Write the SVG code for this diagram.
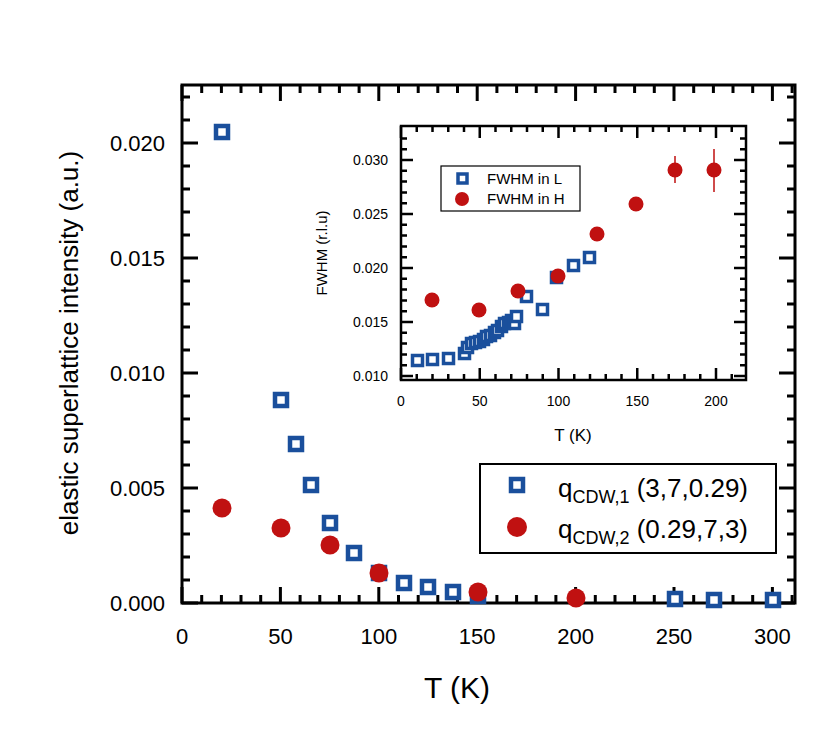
<svg xmlns="http://www.w3.org/2000/svg" width="830" height="738" viewBox="0 0 830 738">
<style>
text{font-family:"Liberation Sans",Arial,sans-serif;fill:#000}
.ax{fill:none;stroke:#000;stroke-width:3}
.tk{stroke:#000;stroke-width:3}
.itk{stroke:#000;stroke-width:2.5}
.sq{fill:#fff;stroke:#1a4f9c;stroke-width:4.5}
.isq{fill:#fff;stroke:#1a4f9c;stroke-width:3.5}
.ci{fill:#c01111}
.eb{stroke:#c01111;stroke-width:1.5}
.big{font-size:22px}
.sm{font-size:14px}
</style>
<rect width="830" height="738" fill="#fff"/>
<g id="main-axes">
<rect class="ax" x="182" y="85" width="613" height="518"/>
<g class="tk" id="main-ticks">
<path d="M182,603v-16M280.4,603v-16M378.8,603v-16M477.2,603v-16M575.6,603v-16M674,603v-16M772.4,603v-16M182,85v16M280.4,85v16M378.8,85v16M477.2,85v16M575.6,85v16M674,85v16M772.4,85v16"/>
<path d="M201.7,603v-8M221.4,603v-8M241,603v-8M260.7,603v-8M300.1,603v-8M319.8,603v-8M339.4,603v-8M359.1,603v-8M398.5,603v-8M418.2,603v-8M437.8,603v-8M457.5,603v-8M496.9,603v-8M516.6,603v-8M536.2,603v-8M555.9,603v-8M595.3,603v-8M615,603v-8M634.6,603v-8M654.3,603v-8M693.7,603v-8M713.4,603v-8M733,603v-8M752.7,603v-8M792.1,603v-8M201.7,85v8M221.4,85v8M241,85v8M260.7,85v8M300.1,85v8M319.8,85v8M339.4,85v8M359.1,85v8M398.5,85v8M418.2,85v8M437.8,85v8M457.5,85v8M496.9,85v8M516.6,85v8M536.2,85v8M555.9,85v8M595.3,85v8M615,85v8M634.6,85v8M654.3,85v8M693.7,85v8M713.4,85v8M733,85v8M752.7,85v8M792.1,85v8"/>
<path d="M182,603h16M182,488h16M182,373h16M182,258h16M182,143h16M795,603h-16M795,488h-16M795,373h-16M795,258h-16M795,143h-16"/>
<path d="M182,580h8M182,557h8M182,534h8M182,511h8M182,465h8M182,442h8M182,419h8M182,396h8M182,350h8M182,327h8M182,304h8M182,281h8M182,235h8M182,212h8M182,189h8M182,166h8M182,120h8M182,97h8M795,580h-8M795,557h-8M795,534h-8M795,511h-8M795,465h-8M795,442h-8M795,419h-8M795,396h-8M795,350h-8M795,327h-8M795,304h-8M795,281h-8M795,235h-8M795,212h-8M795,189h-8M795,166h-8M795,120h-8M795,97h-8"/>
</g>
<g class="big" text-anchor="middle">
<text x="182" y="644">0</text><text x="280.4" y="644">50</text><text x="378.8" y="644">100</text><text x="477.2" y="644">150</text><text x="575.6" y="644">200</text><text x="674" y="644">250</text><text x="772.4" y="644">300</text>
</g>
<g class="big" text-anchor="end">
<text x="165" y="611">0.000</text><text x="165" y="496">0.005</text><text x="165" y="381">0.010</text><text x="165" y="266">0.015</text><text x="165" y="151">0.020</text>
</g>
<text x="457" y="698" text-anchor="middle" font-size="30">T (K)</text>
<text transform="translate(78,343) rotate(-90)" text-anchor="middle" font-size="26">elastic superlattice intensity (a.u.)</text>
</g>
<g id="main-data">
<g class="sq">
<rect x="216" y="126" width="12" height="12"/><rect x="275" y="394" width="12" height="12"/><rect x="290" y="438" width="12" height="12"/><rect x="305" y="479" width="12" height="12"/><rect x="324" y="517" width="12" height="12"/><rect x="348" y="547" width="12" height="12"/><rect x="373" y="567" width="12" height="12"/><rect x="398" y="577" width="12" height="12"/><rect x="422" y="581" width="12" height="12"/><rect x="447" y="586" width="12" height="12"/><rect x="472" y="590" width="12" height="12"/><rect x="669" y="593" width="12" height="12"/><rect x="708" y="594" width="12" height="12"/><rect x="767" y="594" width="12" height="12"/>
</g>
<g class="ci">
<circle cx="222" cy="508" r="9.5"/><circle cx="281" cy="528" r="9.5"/><circle cx="330" cy="545" r="9.5"/><circle cx="379" cy="573" r="9.5"/><circle cx="478" cy="592" r="9.5"/><circle cx="576" cy="598" r="9.5"/>
</g>
</g>
<g id="main-legend">
<rect x="480" y="464" width="296" height="89" fill="#fff" stroke="#000" stroke-width="2"/>
<rect class="sq" x="511" y="479" width="12" height="12"/>
<circle class="ci" cx="517" cy="527" r="10"/>
<text x="558" y="497" font-size="26">q<tspan font-size="18" dy="6">CDW,1</tspan><tspan dy="-6"> (3,7,0.29)</tspan></text>
<text x="558" y="538" font-size="26">q<tspan font-size="18" dy="6">CDW,2</tspan><tspan dy="-6"> (0.29,7,3)</tspan></text>
</g>
<g id="inset">
<rect x="401" y="126" width="345" height="254" fill="#fff" stroke="#000" stroke-width="2.5"/>
<g class="itk">
<path d="M401,380v-12M479.75,380v-12M558.5,380v-12M637.25,380v-12M716,380v-12M401,126v12M479.75,126v12M558.5,126v12M637.25,126v12M716,126v12"/>
<path d="M416.75,380v-6M432.5,380v-6M448.25,380v-6M464,380v-6M495.5,380v-6M511.25,380v-6M527,380v-6M542.75,380v-6M574.25,380v-6M590,380v-6M605.75,380v-6M621.5,380v-6M653,380v-6M668.75,380v-6M684.5,380v-6M700.25,380v-6M731.75,380v-6M416.75,126v6M432.5,126v6M448.25,126v6M464,126v6M495.5,126v6M511.25,126v6M527,126v6M542.75,126v6M574.25,126v6M590,126v6M605.75,126v6M621.5,126v6M653,126v6M668.75,126v6M684.5,126v6M700.25,126v6M731.75,126v6"/>
<path d="M401,376h12M401,322h12M401,268h12M401,214h12M401,160h12M746,376h-12M746,322h-12M746,268h-12M746,214h-12M746,160h-12"/>
<path d="M401,365.2h6M401,354.4h6M401,343.6h6M401,332.8h6M401,311.2h6M401,300.4h6M401,289.6h6M401,278.8h6M401,257.2h6M401,246.4h6M401,235.6h6M401,224.8h6M401,203.2h6M401,192.4h6M401,181.6h6M401,170.8h6M401,149.2h6M401,138.4h6M746,365.2h-6M746,354.4h-6M746,343.6h-6M746,332.8h-6M746,311.2h-6M746,300.4h-6M746,289.6h-6M746,278.8h-6M746,257.2h-6M746,246.4h-6M746,235.6h-6M746,224.8h-6M746,203.2h-6M746,192.4h-6M746,181.6h-6M746,170.8h-6M746,149.2h-6M746,138.4h-6"/>
</g>
<g class="sm" text-anchor="middle">
<text x="401" y="406">0</text><text x="479.75" y="406">50</text><text x="558.5" y="406">100</text><text x="637.25" y="406">150</text><text x="716" y="406">200</text>
</g>
<g class="sm" text-anchor="end">
<text x="388" y="381">0.010</text><text x="388" y="327">0.015</text><text x="388" y="273">0.020</text><text x="388" y="219">0.025</text><text x="388" y="165">0.030</text>
</g>
<text x="573" y="441" text-anchor="middle" font-size="17">T (K)</text>
<text transform="translate(327,253) rotate(-90)" text-anchor="middle" font-size="15">FWHM (r.l.u)</text>
<g class="isq">
<rect x="412.5" y="355.5" width="10" height="10"/><rect x="427.5" y="354.5" width="10" height="10"/><rect x="443.5" y="353.5" width="10" height="10"/><rect x="459.5" y="348.5" width="10" height="10"/><rect x="462.5" y="342.5" width="10" height="10"/><rect x="466.5" y="338.5" width="10" height="10"/><rect x="470.5" y="337.5" width="10" height="10"/><rect x="474.5" y="336.5" width="10" height="10"/><rect x="478.5" y="334.5" width="10" height="10"/><rect x="481.5" y="331.5" width="10" height="10"/><rect x="485.5" y="330.5" width="10" height="10"/><rect x="489.5" y="327.5" width="10" height="10"/><rect x="492.5" y="325.5" width="10" height="10"/><rect x="496.5" y="321.5" width="10" height="10"/><rect x="499.5" y="318.5" width="10" height="10"/><rect x="503.5" y="317.5" width="10" height="10"/><rect x="506.5" y="315.5" width="10" height="10"/><rect x="509.5" y="318.5" width="10" height="10"/><rect x="511.5" y="311.5" width="10" height="10"/><rect x="521.5" y="291.5" width="10" height="10"/><rect x="537.5" y="304.5" width="10" height="10"/><rect x="551.5" y="272.5" width="10" height="10"/><rect x="568.5" y="260.5" width="10" height="10"/><rect x="584.5" y="252.5" width="10" height="10"/>
</g>
<g class="eb"><path d="M675,156v27M714,149v43M636,198v12M597,229v10"/></g>
<g class="ci">
<circle cx="432" cy="300" r="7.5"/><circle cx="479" cy="310" r="7.5"/><circle cx="518" cy="291" r="7.5"/><circle cx="558" cy="276" r="7.5"/><circle cx="597" cy="234" r="7.5"/><circle cx="636" cy="204" r="7.5"/><circle cx="675" cy="170" r="7.5"/><circle cx="714" cy="170" r="7.5"/>
</g>
<g id="inset-legend">
<rect x="441" y="166" width="139" height="45" fill="#fff" stroke="#000" stroke-width="1.2"/>
<rect class="isq" x="458" y="174" width="9" height="9"/>
<circle class="ci" cx="462" cy="199" r="7"/>
<text x="487" y="184" font-size="15">FWHM in L</text>
<text x="487" y="204" font-size="15">FWHM in H</text>
</g>
</g>
</svg>
